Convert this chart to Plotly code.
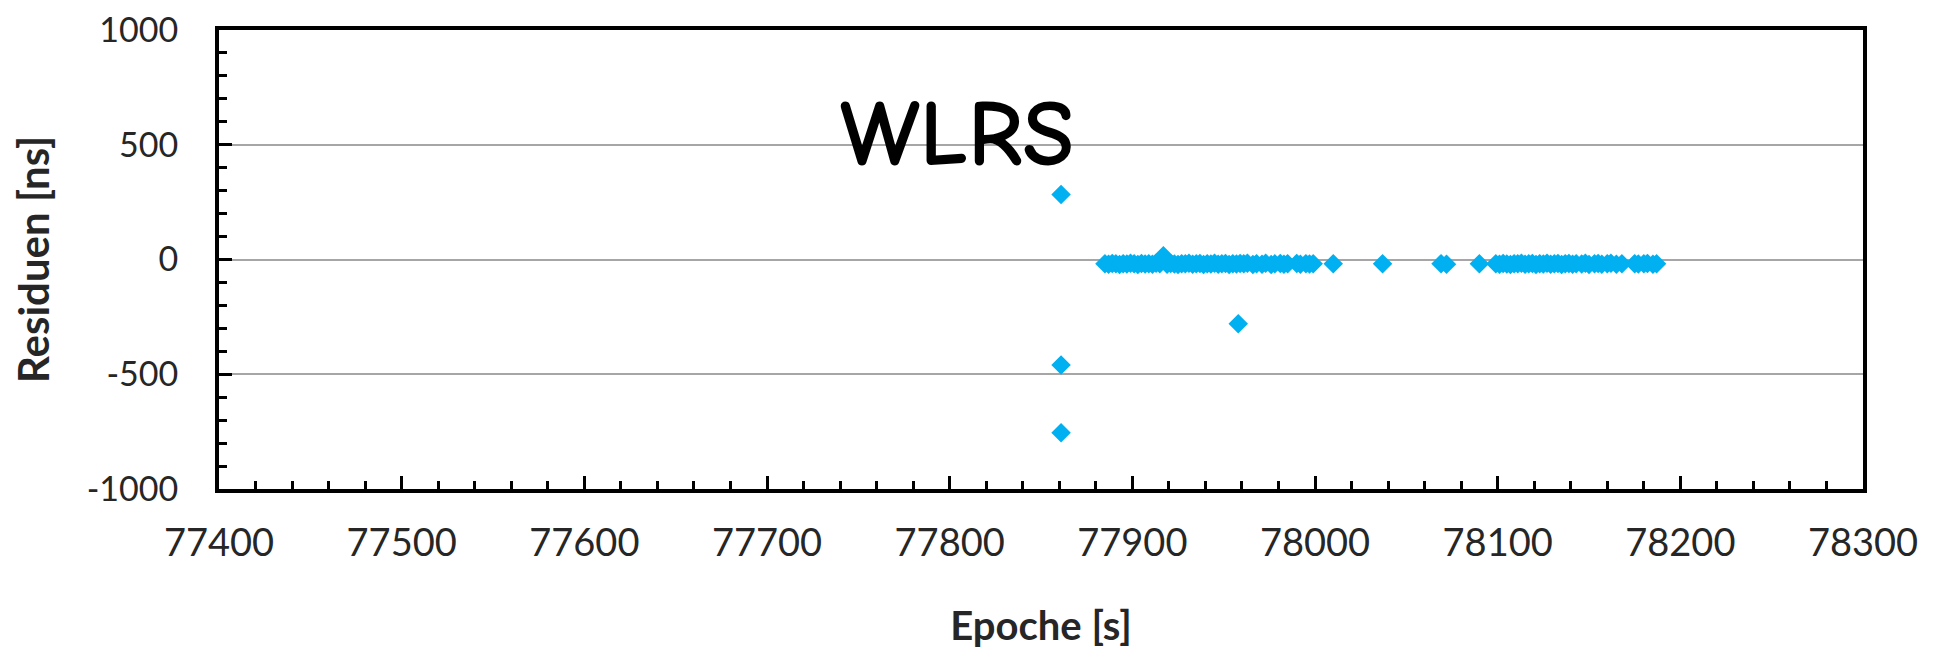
import plotly.graph_objects as go

# --- data ---
# isolated outliers
x_outliers = [77861, 77861, 77861, 77958]
y_outliers = [283, -460, -755, -280]

# first dense pass
x_pass1 = [77885, 77887, 77889, 77891, 77893, 77895, 77897, 77899, 77901, 77903,
           77905, 77907, 77909, 77911, 77913, 77915, 77917, 77919, 77921, 77923,
           77925, 77927, 77929, 77931, 77933, 77935, 77937, 77939, 77941, 77943,
           77945, 77947, 77949, 77951, 77953, 77955, 77957, 77959, 77961,
           77963, 77966, 77968, 77971, 77973, 77976, 77978, 77981, 77983, 77985,
           77990, 77992, 77995, 77997, 77999]
y_pass1 = [-19, -21, -17, -19, -22, -18, -20, -16, -19, -22,
           -17, -20, -18, -21, -16, -19, 16, -21, -17, -20,
           -22, -18, -19, -16, -21, -19, -17, -22, -18, -20,
           -16, -21, -19, -17, -22, -18, -20, -17, -19,
           -16, -22, -18, -21, -16, -22, -19, -17, -21, -18,
           -17, -21, -18, -20, -19]

# sparse points between passes
x_sparse = [78010, 78037, 78069, 78072, 78090]
y_sparse = [-19, -19, -18, -21, -19]

# second dense pass
x_pass2 = [78099, 78101, 78103, 78105, 78107, 78109, 78111, 78113, 78115, 78117,
           78119, 78121, 78123, 78125, 78127, 78129, 78131, 78133, 78135, 78137,
           78139, 78141, 78143, 78146, 78148, 78150, 78153, 78155, 78157, 78160,
           78162, 78165, 78168, 78175, 78177, 78180, 78182, 78185, 78187]
y_pass2 = [-19, -21, -17, -20, -22, -18, -19, -16, -21, -19,
           -17, -22, -18, -20, -16, -21, -19, -17, -22, -18,
           -17, -21, -18, -20, -16, -22, -19, -17, -21, -18,
           -16, -21, -19, -18, -20, -19, -17, -21, -19]

# axis ticks
x_tick_vals = [77400, 77500, 77600, 77700, 77800, 77900, 78000, 78100, 78200, 78300]
x_tick_text = ["77400", "77500", "77600", "77700", "77800", "77900", "78000", "78100", "78200", "78300"]
y_tick_vals = [-1000, -500, 0, 500, 1000]
y_tick_text = ["-1000", "-500", "0", "500", "1000"]

marker_color = "#00B0F0"

xs = x_outliers + x_pass1 + x_sparse + x_pass2
ys = y_outliers + y_pass1 + y_sparse + y_pass2

fig = go.Figure()
fig.add_trace(go.Scatter(
    x=xs, y=ys, mode="markers",
    marker=dict(symbol="diamond", size=15, color=marker_color, line=dict(width=0)),
    showlegend=False, hoverinfo="x+y",
))

tick_font = dict(family="Lato, Carlito, Calibri, sans-serif", color="#262626")

# page body has an 8px margin, so the figure is 16px smaller than the window
fig.update_layout(
    width=1927, height=641,
    margin=dict(l=211, r=72, t=22, b=160, autoexpand=False),
    paper_bgcolor="white", plot_bgcolor="white",
    xaxis=dict(
        range=[x_tick_vals[0], x_tick_vals[-1]],
        tickmode="array", tickvals=x_tick_vals, ticktext=x_tick_text,
        showgrid=False, zeroline=False,
        showline=True, linewidth=4, linecolor="black", mirror=True,
        ticks="inside", ticklen=13, tickwidth=3, tickcolor="black",
        minor=dict(tick0=77400, dtick=20, ticks="inside", ticklen=8, tickwidth=3,
                   tickcolor="black", showgrid=False),
        tickfont=dict(size=38, **tick_font),
        ticklabelstandoff=17, ticklabeloverflow="allow",
        title=dict(text="<b>Epoche [s]</b>", standoff=62,
                   font=dict(size=40, family="Lato, Carlito, sans-serif", color="#262626")),
    ),
    yaxis=dict(
        range=[y_tick_vals[0], y_tick_vals[-1]],
        tickmode="array", tickvals=y_tick_vals, ticktext=y_tick_text,
        showgrid=True, gridcolor="#a6a6a6", gridwidth=1.5, zeroline=False,
        showline=True, linewidth=4, linecolor="black", mirror=True,
        ticks="inside", ticklen=13, tickwidth=3, tickcolor="black",
        minor=dict(tick0=0, dtick=100, ticks="inside", ticklen=8, tickwidth=3,
                   tickcolor="black", showgrid=False),
        tickfont=dict(size=34, **tick_font),
        ticklabelstandoff=30, ticklabeloverflow="allow",
        title=dict(text="<b>Residuen [ns]</b>", standoff=40,
                   font=dict(size=42, family="Lato, Carlito, sans-serif", color="#262626")),
    ),
    annotations=[dict(
        text="<b>WLRS</b>", xref="paper", yref="paper", x=0.449, y=0.772,
        xanchor="center", yanchor="middle", showarrow=False,
        font=dict(size=94, family="Comic Sans MS, Comic Neue, DejaVu Sans, sans-serif", color="black"),
    )],
)

fig.write_html("out.html")
